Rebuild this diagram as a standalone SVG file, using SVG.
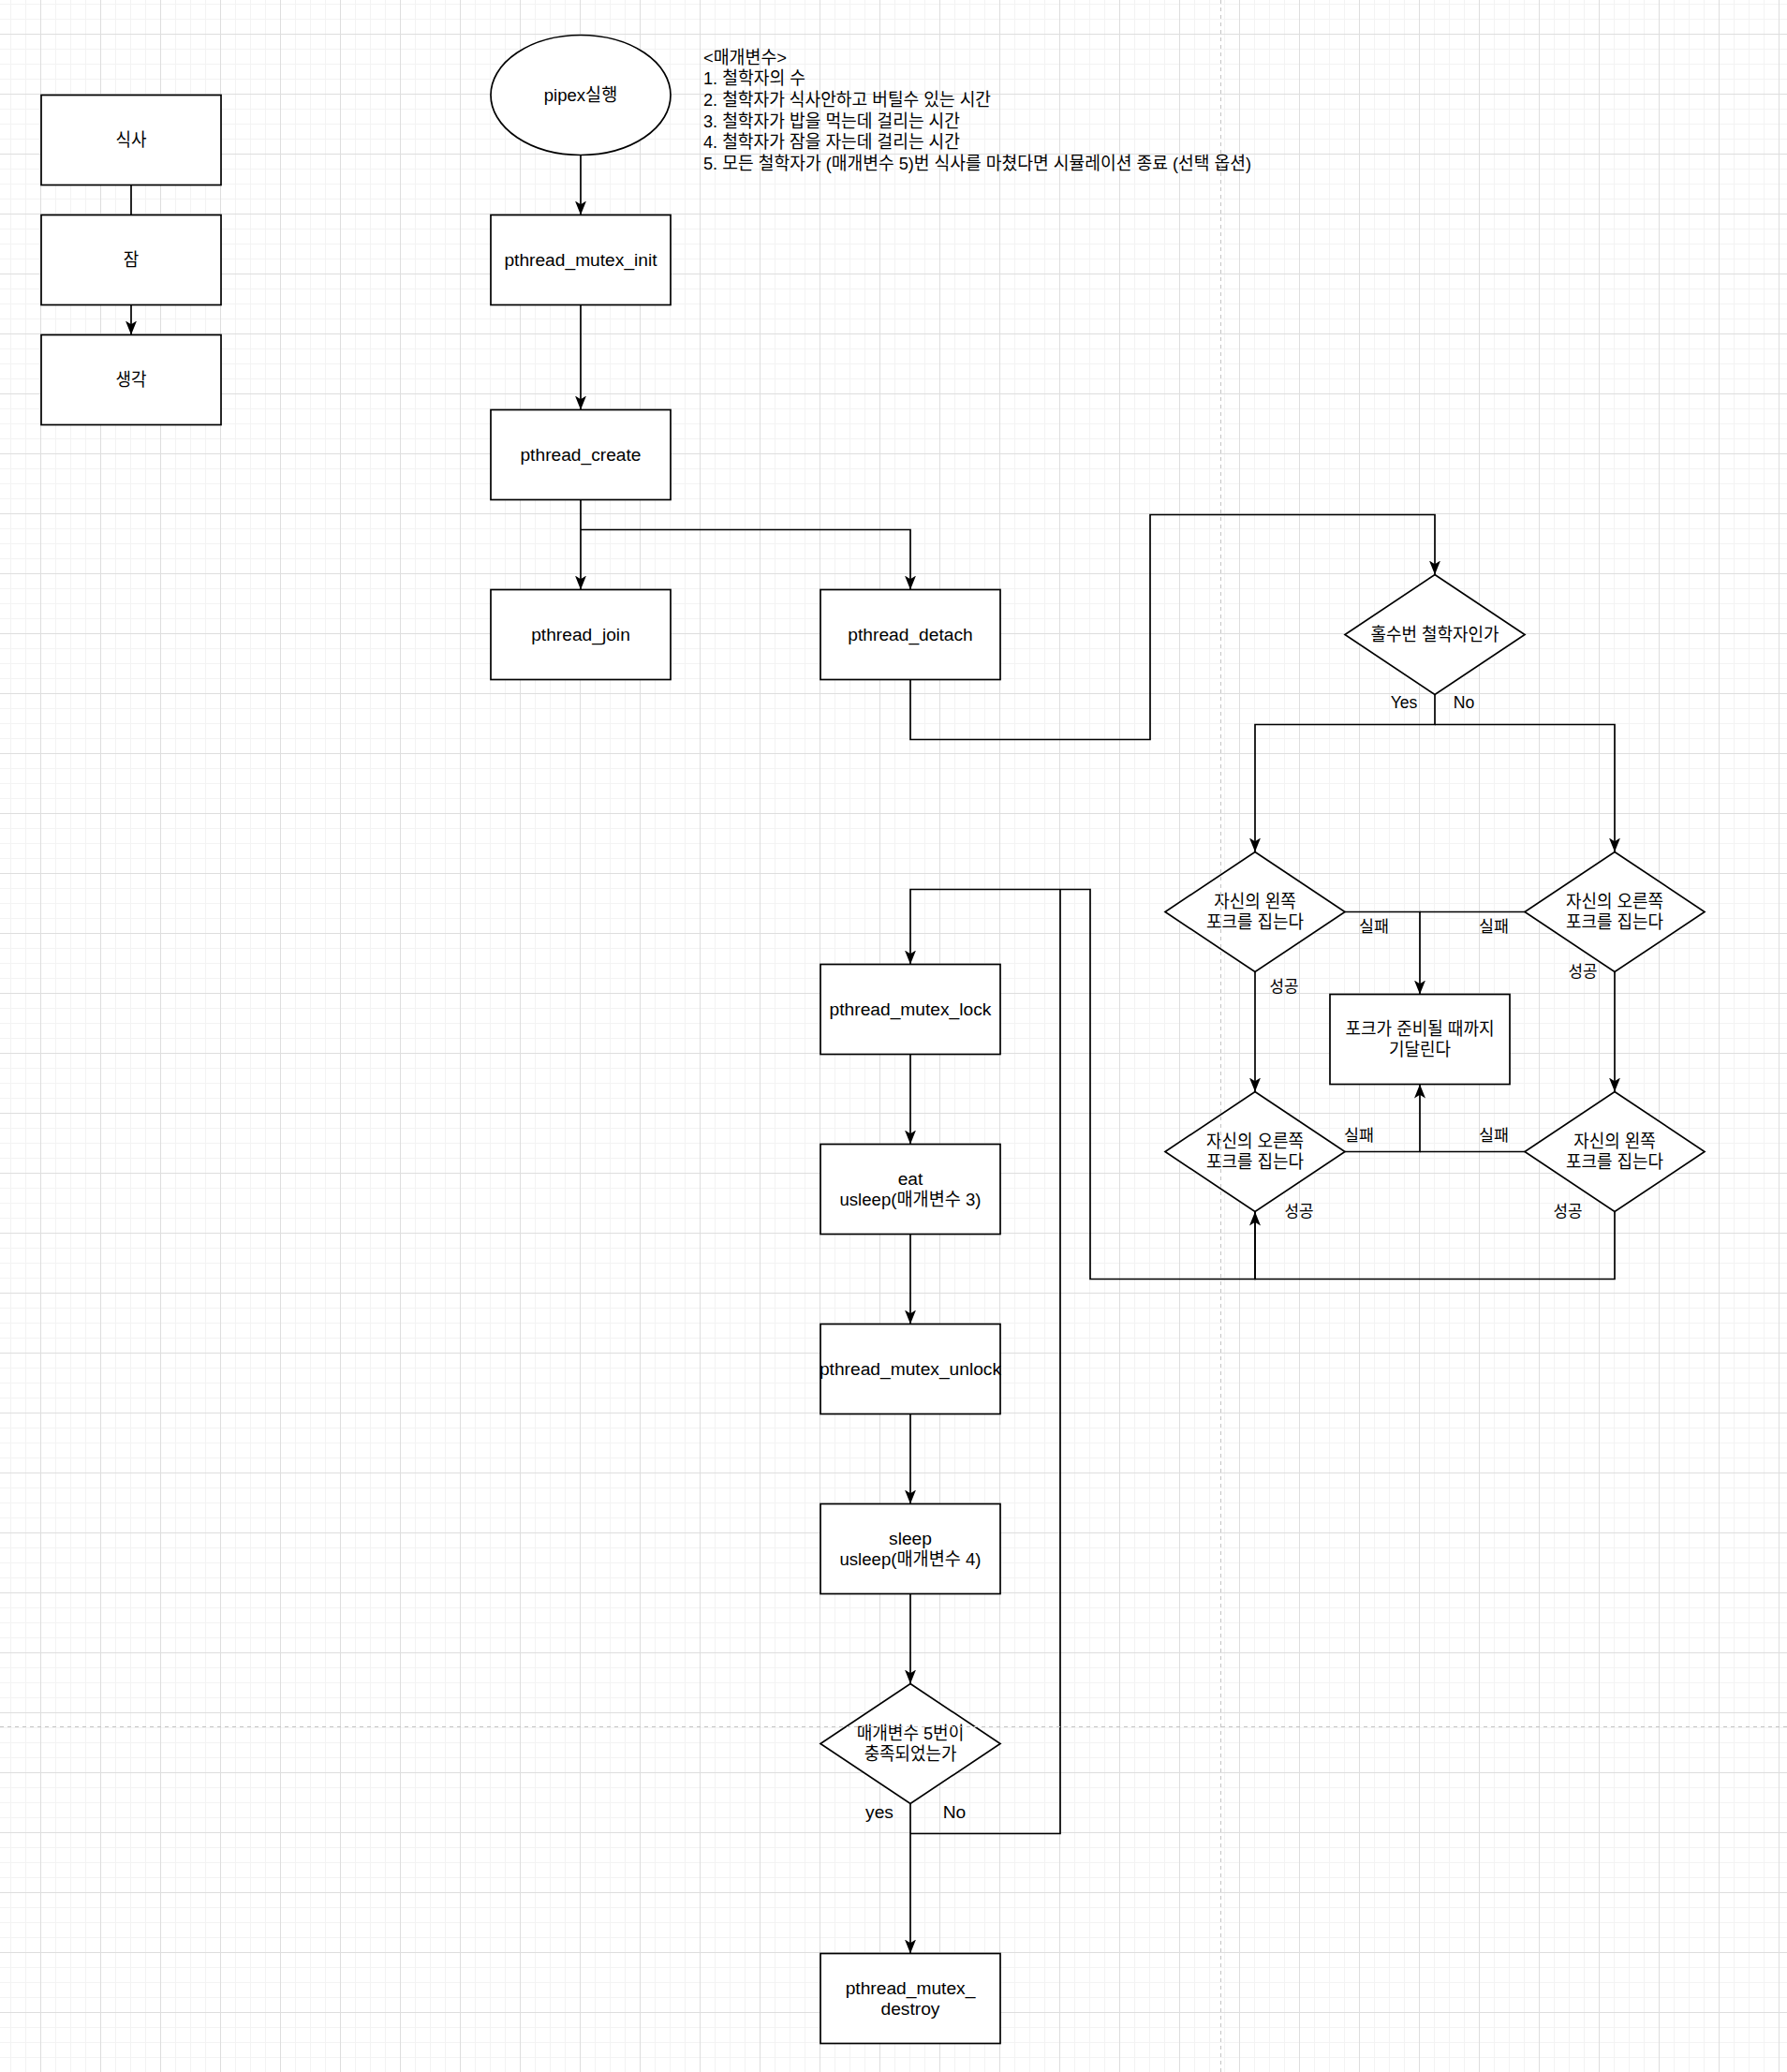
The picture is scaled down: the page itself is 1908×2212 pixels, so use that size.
<svg xmlns="http://www.w3.org/2000/svg" width="1908" height="2212" viewBox="0 0 1908 2212">
<style>
.t{font-family:"Liberation Sans","Noto Sans CJK KR",sans-serif;font-size:19.2px;fill:#000;text-anchor:middle;dominant-baseline:central}
.l{font-size:17.6px}
.p{text-anchor:start}
.s{fill:#fff;stroke:#000;stroke-width:1.7}
.e{fill:none;stroke:#000;stroke-width:1.7}
.a{marker-end:url(#arr)}
.pb{stroke:#c4c4c4;stroke-width:1;stroke-dasharray:4 4;fill:none}
</style>
<defs>
<pattern id="grid" patternUnits="userSpaceOnUse" x="43" y="36" width="64" height="64">
<path d="M16.5,0V64M32.5,0V64M48.5,0V64M0,16.5H64M0,32.5H64M0,48.5H64" stroke="#f3f3f3" stroke-width="1" fill="none"/>
<path d="M0.5,0V64M0,0.5H64" stroke="#dedede" stroke-width="1" fill="none"/>
</pattern>
<marker id="arr" markerUnits="userSpaceOnUse" markerWidth="15" markerHeight="12" viewBox="0 0 15 12" refX="15" refY="6" orient="auto">
<path d="M15,6 L0,0 L3.75,6 L0,12 Z" fill="#000"/>
</marker>
</defs>
<rect width="1908" height="2212" fill="#fff"/>
<rect width="1908" height="2212" fill="url(#grid)"/>

<g id="connectors">
<path class="e" d="M140,197.5V229.5"/>
<path class="e a" d="M140,325.5V357.5"/>
<path class="e a" d="M620,165.5V229.5"/>
<path class="e a" d="M620,325.5V437.5"/>
<path class="e a" d="M620,533.5V629.5"/>
<path class="e a" d="M620,565.5H972V629.5"/>
<path class="e a" d="M972,725.5V789.5H1228V549.5H1532V613.5"/>
<path class="e a" d="M1532,741.5V773.5H1340V909.5"/>
<path class="e a" d="M1532,773.5H1724V909.5"/>
<path class="e a" d="M1436,973.5H1516V1061.5"/>
<path class="e" d="M1628,973.5H1516"/>
<path class="e a" d="M1340,1037.5V1165.5"/>
<path class="e a" d="M1724,1037.5V1165.5"/>
<path class="e a" d="M1436,1229.5H1516V1157.5"/>
<path class="e" d="M1628,1229.5H1516"/>
<path class="e a" d="M1724,1293.5V1365.5H1340V1293.5"/>
<path class="e a" d="M1340,1293.5V1365.5H1164V949.5H972V1029.5"/>
<path class="e a" d="M972,1125.5V1221.5"/>
<path class="e a" d="M972,1317.5V1413.5"/>
<path class="e a" d="M972,1509.5V1605.5"/>
<path class="e a" d="M972,1701.5V1797.5"/>
<path class="e a" d="M972,1925.5V2085.5"/>
<path class="e" d="M972,1957.5H1132V949.5"/>
<text class="t l" x="1499" y="750">Yes</text>
<text class="t l" x="1563" y="750">No</text>
<text class="t l" x="1467" y="989" textLength="32" lengthAdjust="spacingAndGlyphs">실패</text>
<text class="t l" x="1595" y="989" textLength="32" lengthAdjust="spacingAndGlyphs">실패</text>
<text class="t l" x="1451" y="1212" textLength="32" lengthAdjust="spacingAndGlyphs">실패</text>
<text class="t l" x="1595" y="1212" textLength="32" lengthAdjust="spacingAndGlyphs">실패</text>
<text class="t l" x="1371" y="1053" textLength="31" lengthAdjust="spacingAndGlyphs">성공</text>
<text class="t l" x="1690" y="1037" textLength="31" lengthAdjust="spacingAndGlyphs">성공</text>
<text class="t l" x="1387" y="1293" textLength="31" lengthAdjust="spacingAndGlyphs">성공</text>
<text class="t l" x="1674" y="1293" textLength="31" lengthAdjust="spacingAndGlyphs">성공</text>
<text class="t" x="939" y="1934">yes</text>
<text class="t" x="1019" y="1934">No</text>
</g>

<g id="n-eat"><rect class="s" x="44" y="101.5" width="192" height="96"/><text class="t" x="140" y="149.5" textLength="33" lengthAdjust="spacingAndGlyphs">식사</text></g>
<g id="n-sleep0"><rect class="s" x="44" y="229.5" width="192" height="96"/><text class="t" x="140" y="277.5" textLength="16.5" lengthAdjust="spacingAndGlyphs">잠</text></g>
<g id="n-think"><rect class="s" x="44" y="357.5" width="192" height="96"/><text class="t" x="140" y="405.5" textLength="33" lengthAdjust="spacingAndGlyphs">생각</text></g>

<g id="n-start"><ellipse class="s" cx="620" cy="101.5" rx="96" ry="64"/><text class="t" x="620" y="101.5" textLength="78.5" lengthAdjust="spacingAndGlyphs">pipex실행</text></g>
<g id="n-init"><rect class="s" x="524" y="229.5" width="192" height="96"/><text class="t" x="620" y="277.5">pthread_mutex_init</text></g>
<g id="n-create"><rect class="s" x="524" y="437.5" width="192" height="96"/><text class="t" x="620" y="485.5">pthread_create</text></g>
<g id="n-join"><rect class="s" x="524" y="629.5" width="192" height="96"/><text class="t" x="620" y="677.5">pthread_join</text></g>
<g id="n-detach"><rect class="s" x="876" y="629.5" width="192" height="96"/><text class="t" x="972" y="677.5">pthread_detach</text></g>

<g id="n-params">
<text class="t p" x="751" y="61" textLength="89" lengthAdjust="spacingAndGlyphs">&lt;매개변수&gt;</text>
<text class="t p" x="751" y="83.7" textLength="109" lengthAdjust="spacingAndGlyphs">1. 철학자의 수</text>
<text class="t p" x="751" y="106.4" textLength="307" lengthAdjust="spacingAndGlyphs">2. 철학자가 식사안하고 버틸수 있는 시간</text>
<text class="t p" x="751" y="129.1" textLength="274" lengthAdjust="spacingAndGlyphs">3. 철학자가 밥을 먹는데 걸리는 시간</text>
<text class="t p" x="751" y="151.8" textLength="274" lengthAdjust="spacingAndGlyphs">4. 철학자가 잠을 자는데 걸리는 시간</text>
<text class="t p" x="751" y="174.5" textLength="585" lengthAdjust="spacingAndGlyphs">5. 모든 철학자가 (매개변수 5)번 식사를 마쳤다면 시뮬레이션 종료 (선택 옵션)</text>
</g>

<g id="n-odd"><polygon class="s" points="1532,613.5 1628,677.5 1532,741.5 1436,677.5"/><text class="t" x="1532" y="677.5" textLength="137" lengthAdjust="spacingAndGlyphs">홀수번 철학자인가</text></g>
<g id="n-left1"><polygon class="s" points="1340,909.5 1436,973.5 1340,1037.5 1244,973.5"/><text class="t" x="1340" y="962.2" textLength="87.6" lengthAdjust="spacingAndGlyphs">자신의 왼쪽</text><text class="t" x="1340" y="984.9" textLength="104" lengthAdjust="spacingAndGlyphs">포크를 집는다</text></g>
<g id="n-right1"><polygon class="s" points="1724,909.5 1820,973.5 1724,1037.5 1628,973.5"/><text class="t" x="1724" y="962.2" textLength="104" lengthAdjust="spacingAndGlyphs">자신의 오른쪽</text><text class="t" x="1724" y="984.9" textLength="104" lengthAdjust="spacingAndGlyphs">포크를 집는다</text></g>
<g id="n-wait"><rect class="s" x="1420" y="1061.5" width="192" height="96"/><text class="t" x="1516" y="1098.2" textLength="159" lengthAdjust="spacingAndGlyphs">포크가 준비될 때까지</text><text class="t" x="1516" y="1120.9" textLength="66" lengthAdjust="spacingAndGlyphs">기달린다</text></g>
<g id="n-right2"><polygon class="s" points="1340,1165.5 1436,1229.5 1340,1293.5 1244,1229.5"/><text class="t" x="1340" y="1218.2" textLength="104" lengthAdjust="spacingAndGlyphs">자신의 오른쪽</text><text class="t" x="1340" y="1240.9" textLength="104" lengthAdjust="spacingAndGlyphs">포크를 집는다</text></g>
<g id="n-left2"><polygon class="s" points="1724,1165.5 1820,1229.5 1724,1293.5 1628,1229.5"/><text class="t" x="1724" y="1218.2" textLength="87.6" lengthAdjust="spacingAndGlyphs">자신의 왼쪽</text><text class="t" x="1724" y="1240.9" textLength="104" lengthAdjust="spacingAndGlyphs">포크를 집는다</text></g>

<g id="n-lock"><rect class="s" x="876" y="1029.5" width="192" height="96"/><text class="t" x="972" y="1077.5">pthread_mutex_lock</text></g>
<g id="n-eating"><rect class="s" x="876" y="1221.5" width="192" height="96"/><text class="t" x="972" y="1258.2">eat</text><text class="t" x="972" y="1280.9" textLength="151" lengthAdjust="spacingAndGlyphs">usleep(매개변수 3)</text></g>
<g id="n-unlock"><rect class="s" x="876" y="1413.5" width="192" height="96"/><text class="t" x="972" y="1461.5">pthread_mutex_unlock</text></g>
<g id="n-sleeping"><rect class="s" x="876" y="1605.5" width="192" height="96"/><text class="t" x="972" y="1642.2">sleep</text><text class="t" x="972" y="1664.9" textLength="151" lengthAdjust="spacingAndGlyphs">usleep(매개변수 4)</text></g>
<g id="n-check"><polygon class="s" points="972,1797.5 1068,1861.5 972,1925.5 876,1861.5"/><text class="t" x="972" y="1850.2" textLength="114.7" lengthAdjust="spacingAndGlyphs">매개변수 5번이</text><text class="t" x="972" y="1872.9" textLength="98.7" lengthAdjust="spacingAndGlyphs">충족되었는가</text></g>
<g id="n-destroy"><rect class="s" x="876" y="2085.5" width="192" height="96"/><text class="t" x="972" y="2122.2">pthread_mutex_</text><text class="t" x="972" y="2144.9">destroy</text></g>

<path class="pb" d="M1303.5,0V2212M0,1843.5H1908"/>
</svg>
